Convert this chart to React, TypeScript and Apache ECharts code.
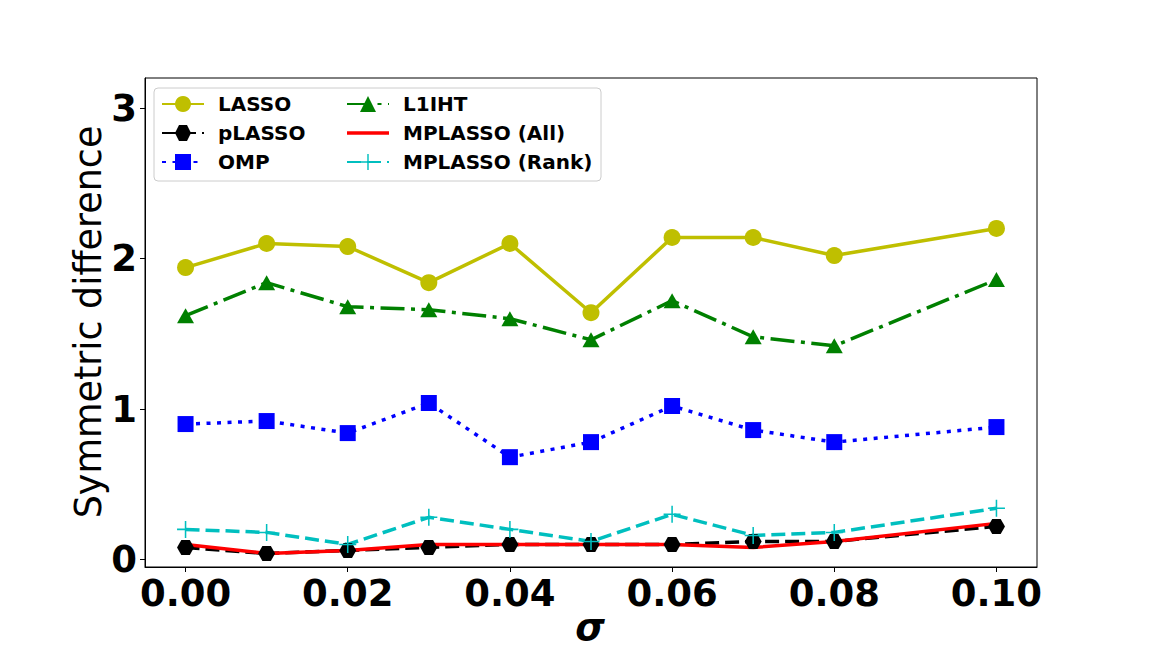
import React, { useEffect, useRef } from "react";
import * as echarts from "echarts";

const sigma = [0, 0.01, 0.02, 0.03, 0.04, 0.05, 0.06, 0.07, 0.08, 0.1];
const lasso = [1.94, 2.1, 2.08, 1.84, 2.1, 1.64, 2.14, 2.14, 2.02, 2.2];
const plasso = [0.08, 0.04, 0.06, 0.08, 0.1, 0.1, 0.1, 0.12, 0.12, 0.22];
const omp = [0.9, 0.92, 0.84, 1.04, 0.68, 0.78, 1.02, 0.86, 0.78, 0.88];
const l1iht = [1.62, 1.84, 1.68, 1.66, 1.6, 1.46, 1.72, 1.48, 1.42, 1.86];
const mplassoAll = [0.1, 0.04, 0.06, 0.1, 0.1, 0.1, 0.1, 0.08, 0.12, 0.24];
const mplassoRank = [0.2, 0.18, 0.1, 0.28, 0.2, 0.12, 0.3, 0.16, 0.18, 0.34];
const xTicks = [0, 0.02, 0.04, 0.06, 0.08, 0.1];
const yTicks = [0, 1, 2, 3];

const FONT = "DejaVu Sans";
const HEX = "path://M-1,0 L-0.5,-0.866 L0.5,-0.866 L1,0 L0.5,0.866 L-0.5,0.866 Z";
const PLUS =
  "path://M-0.09,-1 L0.09,-1 L0.09,-0.09 L1,-0.09 L1,0.09 L0.09,0.09 L0.09,1 L-0.09,1 L-0.09,0.09 L-1,0.09 L-1,-0.09 L-0.09,-0.09 Z";
const LINE_ICON = "path://M0,0 L42,0 L42,3.5 L0,3.5 Z";

const pairs = (ys: number[]) => sigma.map((x, i) => [x, ys[i]]);

export default function App() {
  const ref = useRef<HTMLDivElement>(null);
  useEffect(() => {
    if (!ref.current) return;
    const chart = echarts.init(ref.current, null, { renderer: "svg" });
    const legendCommon = {
      orient: "vertical" as const,
      itemWidth: 42,
      itemHeight: 20,
      itemGap: 9,
      padding: 0,
      textStyle: {
        fontFamily: FONT,
        fontWeight: "bold" as const,
        fontSize: 20,
        color: "#000",
        padding: [0, 0, 0, 9],
      },
    };
    const axisLabelCommon = {
      fontFamily: FONT,
      fontWeight: "bold" as const,
      fontSize: 37,
      color: "#000",
    };
    chart.setOption({
      animation: false,
      backgroundColor: "#fff",
      grid: {
        left: 145,
        right: 115,
        top: 78,
        bottom: 81,
        show: true,
        borderColor: "#000",
        borderWidth: 1,
        containLabel: false,
      },
      xAxis: {
        type: "value",
        min: -0.005,
        max: 0.105,
        splitLine: { show: false },
        axisLine: { show: true, onZero: false, lineStyle: { color: "#000", width: 1 } },
        axisTick: { show: true, length: 5, customValues: xTicks, lineStyle: { color: "#000" } },
        axisLabel: {
          ...axisLabelCommon,
          customValues: xTicks,
          formatter: (v: number) => v.toFixed(2),
          margin: 8,
        },
      },
      yAxis: {
        type: "value",
        min: -0.05,
        max: 3.2,
        splitLine: { show: false },
        axisLine: { show: true, onZero: false, lineStyle: { color: "#000", width: 1 } },
        axisTick: { show: true, length: 5, customValues: yTicks, lineStyle: { color: "#000" } },
        axisLabel: {
          ...axisLabelCommon,
          customValues: yTicks,
          formatter: (v: number) => String(v),
          margin: 8,
        },
      },
      legend: [
        {
          ...legendCommon,
          left: 161,
          top: 94,
          data: ["LASSO", "pLASSO", "OMP"],
        },
        {
          ...legendCommon,
          left: 346,
          top: 94,
          data: [
            "L1IHT",
            { name: "MPLASSO (All)", icon: LINE_ICON, itemStyle: { color: "#ff0000" } },
            "MPLASSO (Rank)",
          ],
        },
      ],
      graphic: [
        {
          type: "rect",
          shape: { x: 154, y: 88, width: 447, height: 93, r: 4 },
          style: { fill: "rgba(255,255,255,0.8)", stroke: "#cccccc", lineWidth: 1 },
          z: -1,
          silent: true,
        },
        {
          type: "text",
          x: 88,
          y: 322,
          rotation: Math.PI / 2,
          style: {
            text: "Symmetric difference",
            font: `36.5px "${FONT}"`,
            fill: "#000",
            textAlign: "center",
            textVerticalAlign: "middle",
          },
        },
        {
          type: "text",
          x: 590,
          y: 627,
          style: {
            text: "σ",
            font: `italic bold 38px "${FONT}"`,
            fill: "#000",
            textAlign: "center",
            textVerticalAlign: "middle",
          },
        },
      ],
      series: [
        {
          name: "LASSO",
          type: "line",
          data: pairs(lasso),
          symbol: "circle",
          symbolSize: 17,
          itemStyle: { color: "#bfbf00" },
          lineStyle: { color: "#bfbf00", width: 3.5, type: "solid" },
        },
        {
          name: "pLASSO",
          type: "line",
          data: pairs(plasso),
          symbol: HEX,
          symbolSize: [17, 15],
          itemStyle: { color: "#000" },
          lineStyle: { color: "#000", width: 3.5, type: [14, 6] },
        },
        {
          name: "OMP",
          type: "line",
          data: pairs(omp),
          symbol: "rect",
          symbolSize: 16,
          itemStyle: { color: "#0000ff" },
          lineStyle: { color: "#0000ff", width: 3.5, type: [4, 6.5] },
        },
        {
          name: "L1IHT",
          type: "line",
          data: pairs(l1iht),
          symbol: "triangle",
          symbolSize: [17, 15],
          itemStyle: { color: "#008000" },
          lineStyle: { color: "#008000", width: 3.5, type: [24, 6.5, 4, 6.5] },
        },
        {
          name: "MPLASSO (All)",
          type: "line",
          data: pairs(mplassoAll),
          symbol: "none",
          itemStyle: { color: "#ff0000" },
          lineStyle: { color: "#ff0000", width: 3.5, type: "solid" },
        },
        {
          name: "MPLASSO (Rank)",
          type: "line",
          data: pairs(mplassoRank),
          symbol: PLUS,
          symbolSize: 17,
          itemStyle: { color: "#00bfbf" },
          lineStyle: { color: "#00bfbf", width: 3.5, type: [14, 6] },
        },
      ],
    });
    return () => chart.dispose();
  }, []);
  return (
    <div
      ref={ref}
      style={{ position: "fixed", left: 0, top: 0, width: 1152, height: 648 }}
    />
  );
}
